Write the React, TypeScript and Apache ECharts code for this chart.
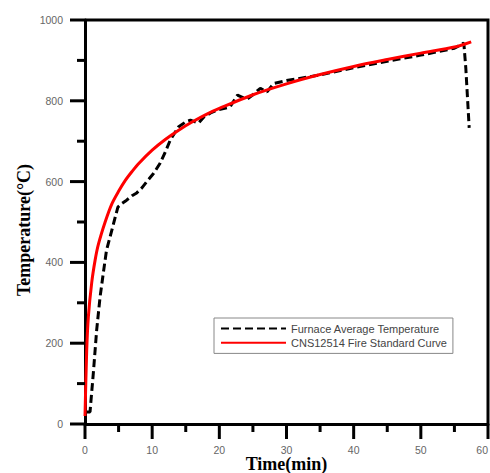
import React, { useEffect, useRef } from "react";
import * as echarts from "echarts";

const furnaceTime = [0.3, 0.75, 1.24, 1.74, 2.24, 2.73, 3.2, 4.0, 4.5, 4.9, 5.5, 6.2, 7.0, 7.7, 8.5, 9.2, 10.2, 11.2, 12.0, 12.7, 13.9, 15.0, 15.7, 16.9, 17.7, 18.7, 19.7, 21.6, 22.7, 23.6, 24.2, 25.0, 26.1, 27.1, 28.1, 30, 35, 40, 45, 50, 55, 56.4, 56.7, 57.2];
const furnaceTemp = [30, 30, 126, 233, 314, 374, 430, 480, 512, 537, 546, 554, 565, 572, 585, 600, 620, 646, 675, 703, 735, 748, 752, 745, 760, 770, 777, 785, 814, 807, 805, 815, 831, 822, 843, 850, 864, 882, 898, 913, 930, 943, 880, 733];

const standardTime = [0, 0.25, 0.5, 1, 1.5, 2, 3, 4, 5, 6, 7, 8, 10, 12, 14, 16, 18, 20, 25, 30, 35, 40, 45, 50, 55, 57.5];
const standardTemp = [20, 180, 265, 350, 405, 445, 500, 545, 576, 603, 625, 645, 678, 705, 728, 748, 766, 781, 815, 842, 865, 885, 902, 918, 933, 946];

const xMajorTicks = [0, 10, 20, 30, 40, 50, 60];
const xMinorTicks = [5, 15, 25, 35, 45, 55];
const yMajorTicks = [0, 200, 400, 600, 800, 1000];
const yMinorTicks = [100, 300, 500, 700, 900];

const seriesNames = ["Furnace Average Temperature", "CNS12514 Fire Standard Curve"];
const xName = "Time(min)";
const yName = "Temperature(°C)";

const X_MIN = 0, X_MAX = 60, Y_MIN = 0, Y_MAX = 1000;

export default function App() {
  const ref = useRef<HTMLDivElement>(null);
  useEffect(() => {
    document.body.style.margin = "0";
    const chart = echarts.init(ref.current!, null, { renderer: "svg" });
    const labelStyle = { color: "#666", fontSize: 10.5, fontFamily: "Liberation Sans, Arial, sans-serif", formatter: (v: number) => String(v) };
    const nameStyle = { color: "#000", fontSize: 18, fontWeight: "bold" as const, fontFamily: "Liberation Serif, Times New Roman, serif" };
    const tickLine = { stroke: "#000", lineWidth: 3 };

    const xTickSeries = (ticks: number[], len: number) => ({
      type: "custom",
      silent: true,
      clip: false,
      z: 6,
      data: ticks.map((v) => [v, Y_MIN]),
      renderItem: (_p: any, api: any) => {
        const pt = api.coord([api.value(0), Y_MIN]);
        return { type: "line", shape: { x1: pt[0], y1: pt[1], x2: pt[0], y2: pt[1] + len }, style: tickLine };
      },
    });
    const yTickSeries = (ticks: number[], len: number) => ({
      type: "custom",
      silent: true,
      clip: false,
      z: 6,
      data: ticks.map((v) => [X_MIN, v]),
      renderItem: (_p: any, api: any) => {
        const pt = api.coord([X_MIN, api.value(1)]);
        return { type: "line", shape: { x1: pt[0] - len, y1: pt[1], x2: pt[0], y2: pt[1] }, style: tickLine };
      },
    });

    chart.setOption({
      animation: false,
      grid: { left: 85, top: 20, right: 2, bottom: 49, outerBoundsMode: "none", containLabel: false, show: false },
      legend: {
        orient: "vertical",
        left: 214,
        top: 318,
        padding: [5, 6],
        itemGap: 3,
        itemWidth: 65,
        itemHeight: 14,
        itemStyle: { opacity: 0 },
        borderColor: "#888",
        borderWidth: 1,
        borderRadius: 0,
        textStyle: { color: "#444", fontSize: 11, fontFamily: "Liberation Sans, Arial, sans-serif" },
        data: seriesNames,
      },
      xAxis: {
        type: "value",
        min: X_MIN,
        max: X_MAX,
        interval: 10,
        name: xName,
        nameLocation: "middle",
        nameGap: 31,
        nameMoveOverlap: false,
        nameTextStyle: nameStyle,
        axisLine: { show: true, onZero: false, lineStyle: { color: "#000", width: 3 } },
        axisTick: { show: false },
        minorTick: { show: false },
        splitLine: { show: false },
        axisLabel: { ...labelStyle, margin: 20, alignMaxLabel: "right" },
      },
      yAxis: {
        type: "value",
        min: Y_MIN,
        max: Y_MAX,
        interval: 200,
        name: yName,
        nameLocation: "middle",
        nameGap: 52,
        nameRotate: 90,
        nameMoveOverlap: false,
        nameTextStyle: { ...nameStyle, padding: [0, 16, 0, 0] },
        axisLine: { show: true, onZero: false, lineStyle: { color: "#000", width: 3 } },
        axisTick: { show: false },
        minorTick: { show: false },
        splitLine: { show: false },
        axisLabel: { ...labelStyle, margin: 22 },
      },
      series: [
        {
          name: seriesNames[0],
          type: "line",
          symbol: "none",
          data: furnaceTime.map((t, i) => [t, furnaceTemp[i]]),
          lineStyle: { color: "#000", width: 3, type: [8, 4] },
          z: 3,
        },
        {
          name: seriesNames[1],
          type: "line",
          symbol: "none",
          smooth: 0.3,
          data: standardTime.map((t, i) => [t, standardTemp[i]]),
          lineStyle: { color: "#ff0000", width: 3 },
          z: 4,
        },
        xTickSeries(xMajorTicks, 15),
        xTickSeries(xMinorTicks, 8),
        yTickSeries(yMajorTicks, 15),
        yTickSeries(yMinorTicks, 8),
        {
          type: "custom",
          silent: true,
          clip: false,
          z: 6,
          data: [[X_MAX, Y_MAX]],
          renderItem: (_p: any, api: any) => {
            const tl = api.coord([X_MIN, Y_MAX]);
            const tr = api.coord([X_MAX, Y_MAX]);
            const br = api.coord([X_MAX, Y_MIN]);
            return { type: "polyline", shape: { points: [tl, tr, br] }, style: { stroke: "#000", lineWidth: 3, fill: "none" } };
          },
        },
      ],
    });
    return () => chart.dispose();
  }, []);
  return <div ref={ref} style={{ width: 490, height: 473 }} />;
}
